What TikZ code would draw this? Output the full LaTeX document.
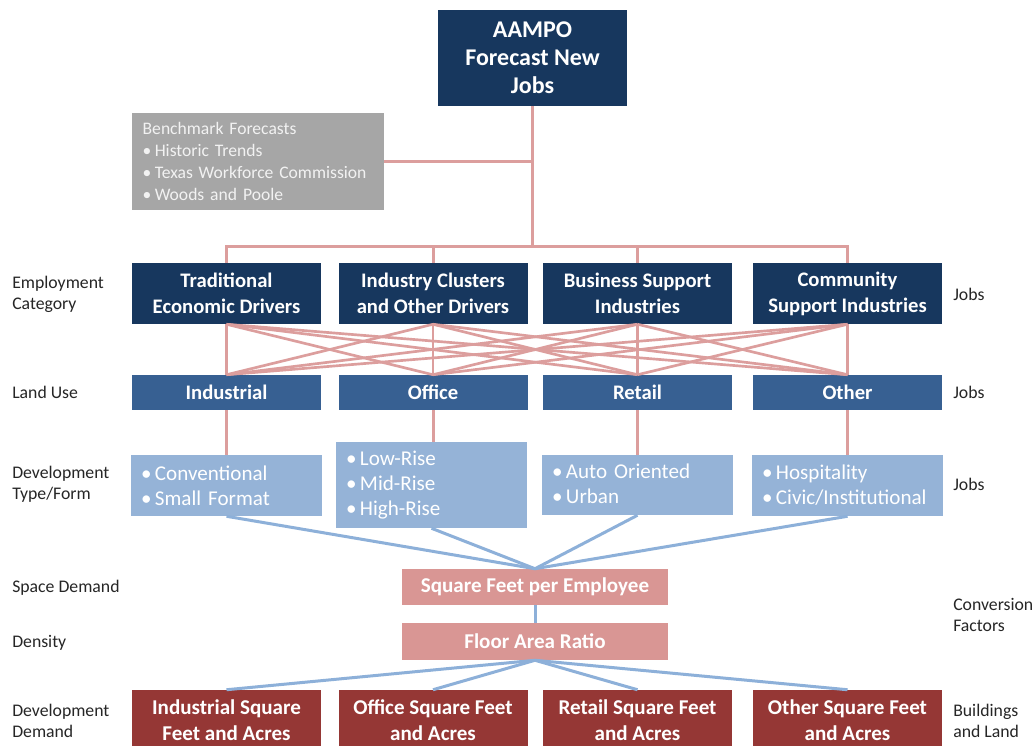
\documentclass[tikz,border=0pt]{standalone}
\usepackage{fontspec}
\setmainfont{Carlito}
\definecolor{navy}{HTML}{17375E}
\definecolor{midblue}{HTML}{376092}
\definecolor{lightblue}{HTML}{95B3D7}
\definecolor{pinkbox}{HTML}{D99694}
\definecolor{darkred}{HTML}{953735}
\definecolor{graybox}{HTML}{A6A6A6}
\definecolor{graytext}{HTML}{F2F2F2}
\definecolor{pinkline}{HTML}{DC9E9D}
\definecolor{blueline}{HTML}{8DB0D9}
\definecolor{labeltext}{HTML}{262626}
\newcommand{\bul}{\mbox{•\kern2.5pt}}
\begin{document}
\begin{tikzpicture}[x=0.75pt,y=-0.75pt,
  boxbase/.style={draw=none,inner sep=0pt,text=white,align=center,minimum width=141.75pt},
  toprow/.style={boxbase,fill=navy,minimum height=45.75pt,font=\fontsize{15.5}{19.5}\selectfont\bfseries},
  landrow/.style={boxbase,fill=midblue,minimum height=26.25pt,font=\fontsize{15.5}{19.5}\selectfont\bfseries},
  typerow/.style={draw=none,fill=lightblue,text=white,align=left,inner xsep=7.5pt,inner ysep=0pt,text width=128pt,font=\fontsize{15.8}{18.75}\selectfont},
  factor/.style={boxbase,fill=pinkbox,minimum width=199.5pt,font=\fontsize{15.8}{19.5}\selectfont\bfseries},
  demrow/.style={boxbase,fill=darkred,minimum height=45pt,font=\fontsize{15.8}{19.5}\selectfont\bfseries},
  sidelabel/.style={align=left,inner sep=0pt,text=labeltext,font=\fontsize{13.3}{15.75}\selectfont},
  pinkconn/.style={draw=pinkline,line width=2.25pt},
  blueconn/.style={draw=blueline,line width=2.25pt}]
\useasboundingbox (0,0) rectangle (1036,746);
\fill[white] (0,0) rectangle (1036,746);

% top
\node[boxbase,fill=navy,minimum height=72pt,font=\fontsize{18}{21}\selectfont\bfseries] (aampo) at (532.5,58) {AAMPO\\Forecast New\\Jobs};
\node[draw=none,fill=graybox,text=graytext,align=left,inner xsep=8pt,inner ysep=0pt,text width=173pt,minimum height=72.75pt,font=\fontsize{13.2}{16.5}\selectfont] (bench) at (258,161.5) {Benchmark Forecasts\\\bul Historic Trends\\\bul Texas Workforce Commission\\\bul Woods and Poole};

% row 1
\node[toprow] (ea) at (226.5,293.5) {Traditional\\Economic Drivers};
\node[toprow] (eb) at (433,293.5) {Industry Clusters\\and Other Drivers};
\node[toprow] (ec) at (637.5,293.5) {Business Support\\Industries};
\node[toprow] (ed) at (847.5,293.5) {Community\\Support Industries};

% row 2
\node[landrow] (la) at (226.5,392.5) {Industrial};
\node[landrow] (lb) at (433,392.5) {Office};
\node[landrow] (lc) at (637.5,392.5) {Retail};
\node[landrow] (ld) at (847.5,392.5) {Other};

% row 3
\node[typerow,minimum height=45.75pt] (ta) at (226.5,485.5) {\bul Conventional\\\bul Small Format};
\node[typerow,minimum height=64.5pt] (tb) at (431.5,485) {\bul Low-Rise\\\bul Mid-Rise\\\bul High-Rise};
\node[typerow,minimum height=45pt] (tc) at (637.5,485) {\bul Auto Oriented\\\bul Urban\vphantom{g}};
\node[typerow,minimum height=45.75pt] (td) at (847.5,485.5) {\bul Hospitality\\\bul Civic/Institutional};

% factors
\node[factor,minimum height=27pt] (sqft) at (535,587) {Square Feet per Employee};
\node[factor,minimum height=27.75pt] (far) at (535,641.5) {Floor Area Ratio};

% row 5
\node[demrow] (da) at (226.5,720) {Industrial Square\\Feet and Acres};
\node[demrow] (db) at (433,720) {Office Square Feet\\and Acres};
\node[demrow] (dc) at (637.5,720) {Retail Square Feet\\and Acres};
\node[demrow] (dd) at (847.5,720) {Other Square Feet\\and Acres};

% connectors top
\coordinate (bus) at (532.5,246);
\coordinate (busl) at (226.5,246);
\coordinate (busr) at (847.5,246);
\draw[pinkconn] (aampo.south) -- (bus);
\draw[pinkconn] (bench.east) -- (bench.east -| aampo.south);
\draw[pinkconn,line cap=rect] (busl) -- (busr);
\foreach \n in {ea,eb,ec,ed} \draw[pinkconn] (\n.north) -- (\n.north |- bus);

% crossings
\foreach \a in {ea,eb,ec,ed}
  \foreach \b in {la,lb,lc,ld}
    \draw[pinkconn,line width=2pt] (\a.south) -- (\b.north);

% row 2 to row 3
\draw[pinkconn] (la.south) -- (ta.north);
\draw[pinkconn] (lb.south) -- (lb.south |- tb.north);
\draw[pinkconn] (lc.south) -- (tc.north);
\draw[pinkconn] (ld.south) -- (td.north);

% row 3 to factors
\foreach \n in {ta,tb,tc,td} \draw[blueconn] (\n.south) -- (sqft.north);
\draw[blueconn] (sqft.south) -- (far.north);
\foreach \n in {da,db,dc,dd} \draw[blueconn] (far.south) -- (\n.north);

% side labels
\node[sidelabel,anchor=west] (l1) at (12,294.5) {Employment\\Category};
\node[sidelabel,anchor=west] (l2) at (12,392.5) {Land Use};
\node[sidelabel,anchor=west] (l3) at (12,484.5) {Development\\Type/Form};
\node[sidelabel,anchor=west] (l4) at (12,587.5) {Space Demand};
\node[sidelabel,anchor=west] (l5) at (12,642.5) {Density};
\node[sidelabel,anchor=west] (l6) at (12,720.5) {Development\\Demand};

\node[sidelabel,anchor=west] (r1) at (953,294.5) {Jobs};
\node[sidelabel,anchor=west] (r2) at (953,392.5) {Jobs};
\node[sidelabel,anchor=west] (r3) at (953,484.5) {Jobs};
\node[sidelabel,anchor=west] (r4) at (953,614.5) {Conversion\\Factors};
\node[sidelabel,anchor=west] (r5) at (953,720.5) {Buildings\\and Land};
\end{tikzpicture}
\end{document}
